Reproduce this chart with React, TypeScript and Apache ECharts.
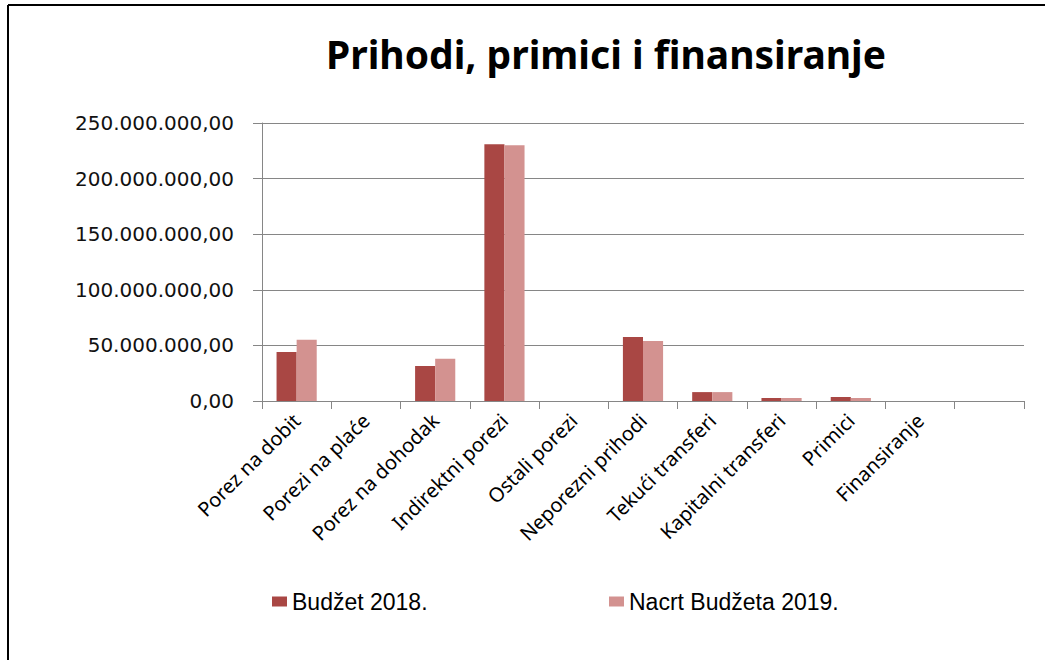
import React, { useEffect, useRef } from "react";
import * as echarts from "echarts";

const categories = [
  "Porez na dobit",
  "Porezi na plaće",
  "Porez na dohodak",
  "Indirektni porezi",
  "Ostali porezi",
  "Neporezni prihodi",
  "Tekući transferi",
  "Kapitalni transferi",
  "Primici",
  "Finansiranje",
  "",
];

const budzet2018 = [44000000, 0, 31500000, 231000000, 0, 57500000, 8000000, 2700000, 3600000, 0, null];
const nacrt2019 = [55000000, 0, 38000000, 230000000, 0, 54000000, 8000000, 2700000, 2700000, 0, null];

const seriesNames = ["Budžet 2018.", "Nacrt Budžeta 2019."];
const titleText = "Prihodi, primici i finansiranje";

const yMin = 0;
const yMax = 250000000;
const yInterval = 50000000;

function formatNumber(v: number): string {
  const s = Math.round(v).toString();
  const withDots = s.replace(/\B(?=(\d{3})+(?!\d))/g, ".");
  return withDots + ",00";
}

export default function App() {
  const ref = useRef<HTMLDivElement>(null);

  useEffect(() => {
    if (!ref.current) return;
    const chart = echarts.init(ref.current, null, { renderer: "svg" });
    const axisColor = "#868686";
    chart.setOption({
      animation: false,
      backgroundColor: "#ffffff",
      title: {
        text: titleText,
        left: 601,
        top: 29,
        textAlign: "center",
        textStyle: {
          fontFamily: "Noto Sans",
          fontWeight: "bold",
          fontSize: 39,
          color: "#000000",
        },
      },
      legend: [
        {
          data: [seriesNames[0]],
          left: 267,
          top: 585,
          icon: "rect",
          itemWidth: 15,
          itemHeight: 10,
          textStyle: { fontFamily: "Liberation Sans", fontSize: 23, color: "#000000" },
        },
        {
          data: [seriesNames[1]],
          left: 604,
          top: 585,
          icon: "rect",
          itemWidth: 15,
          itemHeight: 10,
          textStyle: { fontFamily: "Liberation Sans", fontSize: 23, color: "#000000" },
        },
      ],
      grid: { left: 262, right: 21, top: 123, bottom: 259, containLabel: false },
      xAxis: {
        type: "category",
        data: categories,
        boundaryGap: true,
        axisLine: { show: true, lineStyle: { color: axisColor, width: 1 } },
        axisTick: { show: true, length: 8, alignWithLabel: false, lineStyle: { color: axisColor } },
        axisLabel: {
          interval: 0,
          rotate: 45,
          margin: 16,
          fontFamily: "Noto Sans",
          fontSize: 20,
          color: "#000000",
        },
        splitLine: { show: false },
      },
      yAxis: {
        type: "value",
        min: yMin,
        max: yMax,
        interval: yInterval,
        axisLine: { show: true, lineStyle: { color: axisColor, width: 1 } },
        axisTick: { show: true, length: 9, lineStyle: { color: axisColor } },
        axisLabel: {
          margin: 28,
          fontFamily: "DejaVu Sans",
          fontSize: 20,
          color: "#111111",
          formatter: (v: number) => formatNumber(v),
        },
        splitLine: { show: true, lineStyle: { color: axisColor, width: 1 } },
      },
      series: [
        {
          name: seriesNames[0],
          type: "bar",
          data: budzet2018,
          barGap: "0%",
          barCategoryGap: "42%",
          itemStyle: { color: "#A94744" },
        },
        {
          name: seriesNames[1],
          type: "bar",
          data: nacrt2019,
          barGap: "0%",
          barCategoryGap: "42%",
          itemStyle: { color: "#D39290" },
        },
      ],
      graphic: [
        {
          type: "line",
          shape: { x1: 8, y1: 5, x2: 1045, y2: 5 },
          style: { stroke: "#000000", lineWidth: 2 },
        },
        {
          type: "line",
          shape: { x1: 8, y1: 5, x2: 8, y2: 660 },
          style: { stroke: "#000000", lineWidth: 2 },
        },
      ],
    });
    return () => chart.dispose();
  }, []);

  return (
    <div
      ref={ref}
      style={{ position: "fixed", left: 0, top: 0, width: 1045, height: 660, background: "#fff" }}
    />
  );
}
